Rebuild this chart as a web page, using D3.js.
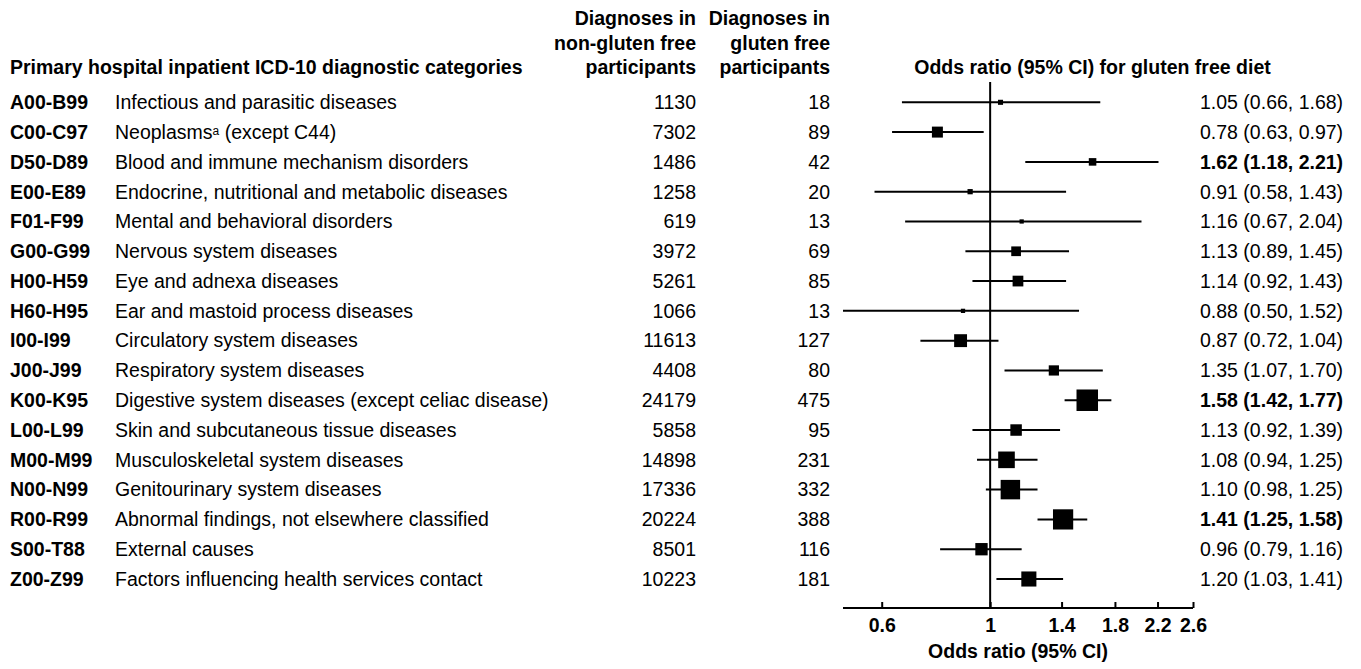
<!DOCTYPE html>
<html lang="en">
<head>
<meta charset="utf-8">
<title>Gluten free diet and hospital inpatient diagnoses</title>
<script src="https://cdnjs.cloudflare.com/ajax/libs/d3/7.8.5/d3.min.js"></script>
<style>
  body { margin: 0; background: #fff; }
  svg { font-family: "Liberation Sans", Arial, sans-serif; font-size: 19.5px; fill: #000; }
  .bold { font-weight: bold; }
</style>
</head>
<body>
<script>
const codes = ["A00-B99", "C00-C97", "D50-D89", "E00-E89", "F01-F99", "G00-G99", "H00-H59", "H60-H95",
  "I00-I99", "J00-J99", "K00-K95", "L00-L99", "M00-M99", "N00-N99", "R00-R99", "S00-T88", "Z00-Z99"];
const labels = ["Infectious and parasitic diseases", "Neoplasms^a (except C44)", "Blood and immune mechanism disorders",
  "Endocrine, nutritional and metabolic diseases", "Mental and behavioral disorders", "Nervous system diseases",
  "Eye and adnexa diseases", "Ear and mastoid process diseases", "Circulatory system diseases",
  "Respiratory system diseases", "Digestive system diseases (except celiac disease)",
  "Skin and subcutaneous tissue diseases", "Musculoskeletal system diseases", "Genitourinary system diseases",
  "Abnormal findings, not elsewhere classified", "External causes", "Factors influencing health services contact"];
const nonGlutenFree = [1130, 7302, 1486, 1258, 619, 3972, 5261, 1066, 11613, 4408, 24179, 5858, 14898, 17336, 20224, 8501, 10223];
const glutenFree = [18, 89, 42, 20, 13, 69, 85, 13, 127, 80, 475, 95, 231, 332, 388, 116, 181];
const oddsRatio = [1.05, 0.78, 1.62, 0.91, 1.16, 1.13, 1.14, 0.88, 0.87, 1.35, 1.58, 1.13, 1.08, 1.10, 1.41, 0.96, 1.20];
const ciLow = [0.66, 0.63, 1.18, 0.58, 0.67, 0.89, 0.92, 0.50, 0.72, 1.07, 1.42, 0.92, 0.94, 0.98, 1.25, 0.79, 1.03];
const ciHigh = [1.68, 0.97, 2.21, 1.43, 2.04, 1.45, 1.43, 1.52, 1.04, 1.70, 1.77, 1.39, 1.25, 1.25, 1.58, 1.16, 1.41];
const boldCodes = ["D50-D89", "K00-K95", "R00-R99"];
const orTicks = [0.6, 1, 1.4, 1.8, 2.2, 2.6];

const width = 1361, height = 669;

const rows = codes.map((c, i) => ({
  code: c, label: labels[i], n0: nonGlutenFree[i], n1: glutenFree[i],
  or: oddsRatio[i], lo: ciLow[i], hi: ciHigh[i],
  // inverse-variance weight from the CI on the log scale
  w: 1 / Math.pow((Math.log(ciHigh[i]) - Math.log(ciLow[i])) / 3.92, 2),
  bold: boldCodes.includes(c)
}));

const svg = d3.select("body").append("svg")
  .attr("width", width)
  .attr("height", height);

const y = d3.scalePoint().domain(codes).range([102.3, 579]);
const x = d3.scaleLog().domain([0.5, 2.6]).range([843, 1193]);
const boxSize = d3.scaleSqrt().domain([0, d3.max(rows, d => d.w)]).range([0, 21.5]);

// column headers
const head = svg.append("g").attr("class", "bold");
head.append("text").attr("x", 10).attr("y", 74).text("Primary hospital inpatient ICD-10 diagnostic categories");
[["Diagnoses in", "non-gluten free", "participants"], ["Diagnoses in", "gluten free", "participants"]]
  .forEach((lines, j) => {
    lines.forEach((t, k) => {
      head.append("text")
        .attr("x", j === 0 ? 696 : 830)
        .attr("y", 25 + k * 24.5)
        .attr("text-anchor", "end")
        .text(t);
    });
  });
head.append("text").attr("x", 1092.5).attr("y", 74).attr("text-anchor", "middle")
  .text("Odds ratio (95% CI) for gluten free diet");

// table rows
const row = svg.append("g").selectAll("g")
  .data(rows)
  .enter()
  .append("g")
  .attr("transform", d => `translate(0, ${y(d.code)})`);

row.append("text").attr("class", "bold").attr("x", 10).attr("dy", "0.35em").text(d => d.code);

row.append("text").attr("x", 115).attr("dy", "0.35em")
  .each(function(d) {
    const parts = d.label.split(/\^(\w)/);
    const t = d3.select(this);
    t.append("tspan").text(parts[0]);
    if (parts.length > 1) {
      t.append("tspan").attr("font-size", "12px").attr("baseline-shift", "4px").text(parts[1]);
      t.append("tspan").text(parts[2]);
    }
  });

row.append("text").attr("x", 696).attr("dy", "0.35em").attr("text-anchor", "end").text(d => d.n0);
row.append("text").attr("x", 830).attr("dy", "0.35em").attr("text-anchor", "end").text(d => d.n1);

row.append("text").attr("x", 1200).attr("dy", "0.35em")
  .attr("class", d => d.bold ? "bold" : null)
  .text(d => `${d.or.toFixed(2)} (${d.lo.toFixed(2)}, ${d.hi.toFixed(2)})`);

// reference line at OR = 1
svg.append("line")
  .attr("x1", x(1)).attr("x2", x(1))
  .attr("y1", 82).attr("y2", 608)
  .attr("stroke", "#000").attr("stroke-width", 2);

// confidence intervals and point estimates
row.append("line")
  .attr("x1", d => x(d.lo)).attr("x2", d => x(d.hi))
  .attr("stroke", "#000").attr("stroke-width", 2);

row.append("rect")
  .attr("x", d => x(d.or) - boxSize(d.w) / 2)
  .attr("y", d => -boxSize(d.w) / 2)
  .attr("width", d => boxSize(d.w))
  .attr("height", d => boxSize(d.w))
  .attr("fill", "#000");

// x axis
const axis = svg.append("g")
  .attr("transform", "translate(0, 608)")
  .call(d3.axisBottom(x)
    .tickValues(orTicks)
    .tickFormat(d3.format("~g"))
    .tickSizeInner(-6)
    .tickSizeOuter(0)
    .tickPadding(10));

axis.select(".domain").attr("stroke-width", 2).attr("d", `M${x.range()[0]},0H${x.range()[1]}`);
axis.selectAll(".tick line").attr("stroke-width", 2);
axis.selectAll(".tick text")
  .attr("font-size", "19.5px")
  .attr("font-family", "Liberation Sans, Arial, sans-serif")
  .attr("font-weight", "bold");

svg.append("text")
  .attr("class", "bold")
  .attr("x", (x.range()[0] + x.range()[1]) / 2)
  .attr("y", 658)
  .attr("text-anchor", "middle")
  .text("Odds ratio (95% CI)");
</script>
</body>
</html>
